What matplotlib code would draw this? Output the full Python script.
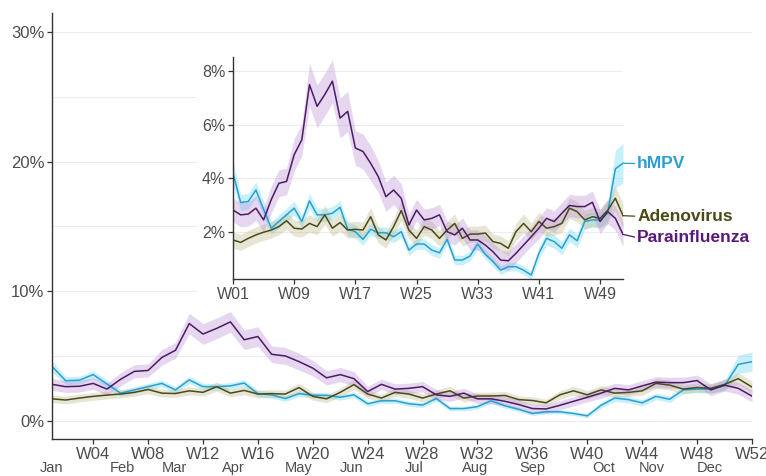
import numpy as np
import matplotlib.pyplot as plt
import matplotlib.transforms as mtransforms
from matplotlib.patches import Rectangle

plt.rcParams['font.family'] = ['Liberation Sans', 'DejaVu Sans']

# weekly positivity (%) per virus, W01..W52
weeks = np.arange(1, 53)

hmpv = [4.19, 3.09, 3.13, 3.56, 2.84, 2.13, 2.38, 2.63, 2.88, 2.38,
        3.15, 2.63, 2.63, 2.69, 2.91, 2.09, 2.00, 1.71, 2.09, 1.96,
        1.96, 1.81, 2.00, 1.31, 1.54, 1.54, 1.31, 1.21, 1.71, 0.94,
        0.94, 1.09, 1.54, 1.15, 0.88, 0.56, 0.69, 0.69, 0.56, 0.38,
        1.19, 1.75, 1.63, 1.38, 1.88, 1.66, 2.38, 2.44, 2.44, 2.70,
        4.35, 4.56]
hmpv_ci = [0.45, 0.30, 0.30, 0.30, 0.30, 0.25, 0.25, 0.25, 0.25, 0.25,
           0.28, 0.25, 0.25, 0.25, 0.25, 0.25, 0.25, 0.22, 0.22, 0.22,
           0.22, 0.22, 0.22, 0.20, 0.20, 0.20, 0.20, 0.20, 0.20, 0.18,
           0.18, 0.18, 0.20, 0.18, 0.18, 0.16, 0.16, 0.16, 0.16, 0.15,
           0.22, 0.25, 0.25, 0.25, 0.25, 0.25, 0.28, 0.28, 0.30, 0.40,
           0.70, 0.75]

adeno = [1.69, 1.60, 1.75, 1.88, 1.98, 2.06, 2.19, 2.41, 2.13, 2.10,
         2.31, 2.19, 2.63, 2.13, 2.34, 2.06, 2.09, 2.06, 2.56, 1.88,
         1.69, 2.19, 2.79, 2.06, 1.75, 2.19, 2.06, 1.75, 2.06, 2.31,
         1.75, 1.91, 1.91, 1.95, 1.63, 1.56, 1.38, 2.00, 2.31, 2.00,
         2.38, 2.13, 2.19, 2.31, 2.88, 2.75, 2.44, 2.56, 2.50, 2.80,
         3.25, 2.60]
adeno_ci = [0.30, 0.30, 0.30, 0.30, 0.30, 0.30, 0.30, 0.32, 0.30, 0.30,
            0.32, 0.30, 0.35, 0.30, 0.32, 0.30, 0.30, 0.30, 0.35, 0.30,
            0.30, 0.32, 0.38, 0.32, 0.30, 0.32, 0.32, 0.30, 0.32, 0.35,
            0.30, 0.30, 0.30, 0.30, 0.28, 0.28, 0.28, 0.32, 0.35, 0.32,
            0.35, 0.32, 0.32, 0.35, 0.38, 0.38, 0.35, 0.35, 0.35, 0.40,
            0.45, 0.45]

para = [2.81, 2.63, 2.66, 2.88, 2.44, 3.20, 3.81, 3.88, 4.88, 5.44,
        7.50, 6.69, 7.13, 7.63, 6.25, 6.50, 5.13, 5.00, 4.56, 4.06,
        3.31, 3.56, 3.25, 2.25, 2.81, 2.44, 2.50, 2.63, 2.00, 1.88,
        2.13, 1.69, 1.69, 1.50, 1.25, 0.94, 0.91, 1.19, 1.50, 1.81,
        2.13, 2.50, 2.38, 2.69, 2.98, 2.94, 2.94, 3.10, 2.38, 2.75,
        2.50, 1.90]
para_ci = [0.45, 0.45, 0.45, 0.45, 0.45, 0.50, 0.50, 0.50, 0.60, 0.60,
           0.80, 0.80, 0.80, 0.80, 0.75, 0.75, 0.65, 0.65, 0.65, 0.60,
           0.55, 0.55, 0.55, 0.40, 0.40, 0.40, 0.40, 0.40, 0.40, 0.38,
           0.38, 0.38, 0.38, 0.35, 0.35, 0.35, 0.35, 0.35, 0.35, 0.35,
           0.40, 0.40, 0.40, 0.40, 0.42, 0.42, 0.42, 0.42, 0.45, 0.45,
           0.45, 0.45]

names = ["hMPV", "Adenovirus", "Parainfluenza"]
values = [hmpv, adeno, para]
cis = [hmpv_ci, adeno_ci, para_ci]
line_colors = ["#2a9fd0", "#4a4a1c", "#4b1c64"]
fill_colors = ["#5fd6f5", "#bdb582", "#b98ad6"]
label_colors = ["#2b9fd3", "#4b4a16", "#5a1a7c"]
label_y = [4.55, 2.58, 1.80]

main_xticks = list(range(4, 53, 4))
inset_xticks = list(range(1, 53, 8))
months = ["Jan", "Feb", "Mar", "Apr", "May", "Jun",
          "Jul", "Aug", "Sep", "Oct", "Nov", "Dec"]
month_pos = [1.0, 6.1, 9.9, 14.2, 19.0, 22.8, 27.4, 31.8, 36.0, 41.2, 44.7, 48.9]

spine_col = "#333333"
text_col = "#4d4d4d"
grid_col = "#ededed"


def draw_series(a):
    for v, c, fc in zip(values, cis, fill_colors):
        v = np.array(v)
        c = np.array(c)
        a.fill_between(weeks, v - c, v + c, color=fc, alpha=0.35, lw=0)
    for v, lc in zip(values, line_colors):
        a.plot(weeks, v, color=lc, lw=1.1)


def style_axes(a, fs):
    for s in ["top", "right"]:
        a.spines[s].set_visible(False)
    for s in ["left", "bottom"]:
        a.spines[s].set_color(spine_col)
        a.spines[s].set_linewidth(1.0)
    a.tick_params(which="major", length=3.5, width=0.9, color=spine_col,
                  labelsize=fs, labelcolor=text_col, pad=2)
    a.tick_params(which="minor", length=0)
    a.set_axisbelow(True)


fig = plt.figure(figsize=(7.66, 4.76), dpi=100)

# full-year panel
ax = fig.add_axes([52 / 766, 37 / 476, 700 / 766, 426 / 476], zorder=0)
draw_series(ax)
ax.set_xlim(1, 52)
ax.set_ylim(-1.41, 31.47)
ax.set_yticks([0, 10, 20, 30])
ax.set_yticklabels([f"{t}%" for t in [0, 10, 20, 30]])
ax.set_yticks([5, 15, 25], minor=True)
ax.set_xticks(main_xticks)
ax.set_xticklabels([f"W{w:02d}" for w in main_xticks])
ax.grid(axis="y", which="both", color=grid_col, lw=0.8)
style_axes(ax, 12)

trans = mtransforms.blended_transform_factory(ax.transData, ax.transAxes)
for m, p in zip(months, month_pos):
    ax.text(p, -0.068, m, transform=trans, ha="center", va="center",
            fontsize=10.5, color=text_col)

# white backing behind the zoomed panel
fig.add_artist(Rectangle((197 / 766, 176 / 476), 569 / 766, 258 / 476,
                         transform=fig.transFigure, facecolor="white",
                         edgecolor="none", zorder=0.5))

# zoomed panel
ax2 = fig.add_axes([233 / 766, 197 / 476, 390 / 766, 222 / 476], zorder=1)
draw_series(ax2)
ax2.set_xlim(1, 52)
ax2.set_ylim(0.23, 8.535)
ax2.set_yticks([2, 4, 6, 8])
ax2.set_yticklabels([f"{t}%" for t in [2, 4, 6, 8]])
ax2.set_xticks(inset_xticks)
ax2.set_xticklabels([f"W{w:02d}" for w in inset_xticks])
ax2.grid(axis="y", which="major", color=grid_col, lw=0.8)
style_axes(ax2, 11.5)

for v, lc, tc, name, ly in zip(values, line_colors, label_colors, names, label_y):
    ax2.plot([52, 53.5], [v[-1], ly], color=lc, lw=0.9, clip_on=False)
    ax2.text(53.85, ly, name, color=tc, fontsize=12.5, fontweight="bold",
             va="center", ha="left", clip_on=False)

fig.savefig("out.png", dpi=100)
